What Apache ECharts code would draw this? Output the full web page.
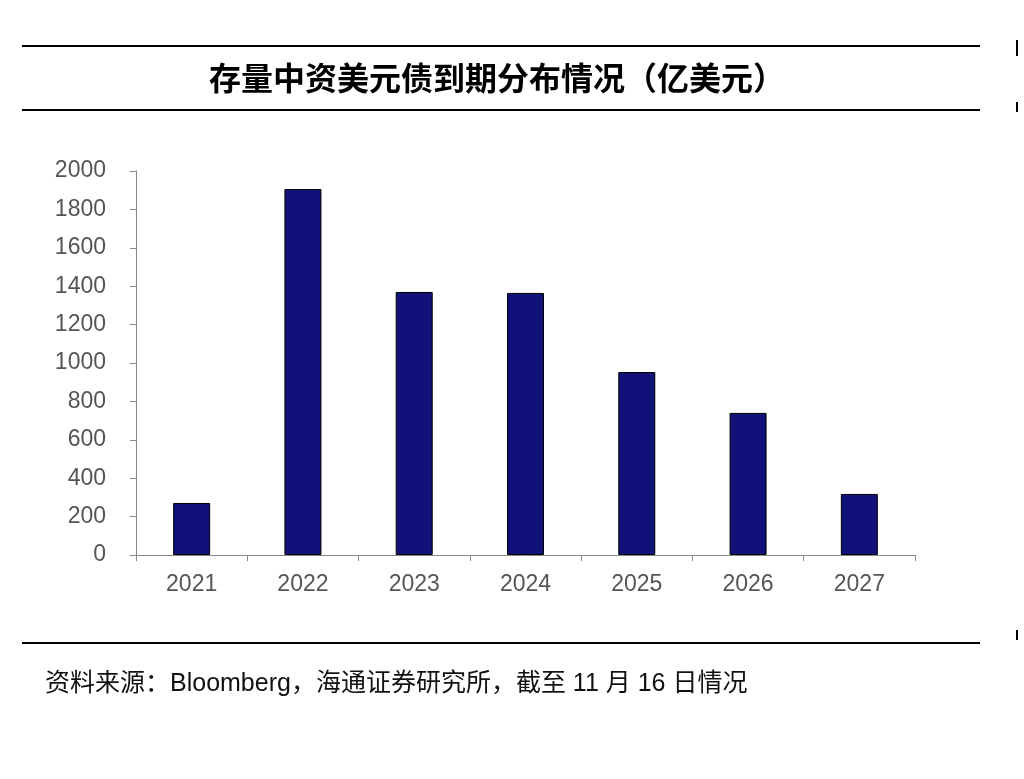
<!DOCTYPE html>
<html><head><meta charset="utf-8">
<script src="https://cdn.jsdelivr.net/npm/echarts@6/dist/echarts.min.js"></script>
<style>html,body{margin:0;background:#fff}#c{width:1024px;height:779px}</style>
</head><body><div id="c"></div>
<script>
const categories=['2021','2022','2023','2024','2025','2026','2027'];
const values=[271,1906,1370,1365,953,740,318];
const yTicks=[0,200,400,600,800,1000,1200,1400,1600,1800,2000];
const titleText='存量中资美元债到期分布情况（亿美元）';
const sourceText='资料来源：Bloomberg，海通证券研究所，截至 11 月 16 日情况';
const chart=echarts.init(document.getElementById('c'));
const F='"Liberation Sans","Noto Sans CJK SC",sans-serif';
chart.setOption({
 animation:false,
 graphic:[
  {type:'line',shape:{x1:22,y1:46,x2:980,y2:46},style:{stroke:'#000',lineWidth:2}},
  {type:'line',shape:{x1:22,y1:110,x2:980,y2:110},style:{stroke:'#000',lineWidth:2}},
  {type:'line',shape:{x1:22,y1:643,x2:980,y2:643},style:{stroke:'#000',lineWidth:2}},
  {type:'line',shape:{x1:1017,y1:40,x2:1017,y2:56},style:{stroke:'#000',lineWidth:2}},
  {type:'line',shape:{x1:1017,y1:102,x2:1017,y2:112},style:{stroke:'#000',lineWidth:2}},
  {type:'line',shape:{x1:1017,y1:630,x2:1017,y2:640},style:{stroke:'#000',lineWidth:2}},
  {type:'text',x:497,y:78,style:{text:titleText,font:'bold 32px "Noto Sans CJK SC"',fill:'#000',align:'center',verticalAlign:'middle',letterSpacing:1}},
  {type:'text',x:45,y:684,style:{text:sourceText,font:'25px "Liberation Sans","Noto Sans CJK SC"',fill:'#111',align:'left',verticalAlign:'middle',letterSpacing:2}}
 ],
 grid:{left:136,right:109,top:171,bottom:224},
 xAxis:{type:'category',data:categories,
  axisLine:{lineStyle:{color:'#888'}},axisTick:{show:true,length:6,lineStyle:{color:'#888'}},
  axisLabel:{color:'#555',fontSize:23,fontFamily:F,margin:18}},
 yAxis:{type:'value',min:0,max:2000,interval:200,
  axisLine:{show:true,lineStyle:{color:'#888'}},axisTick:{show:true,length:6,lineStyle:{color:'#888'}},
  splitLine:{show:false},
  axisLabel:{color:'#555',fontSize:23,fontFamily:F,margin:30,formatter:v=>yTicks.includes(v)?String(v):''}},
 series:[{type:'bar',data:values,barWidth:37,itemStyle:{color:'#10127a',borderColor:'#000',borderWidth:1}}]
});
</script></body></html>
